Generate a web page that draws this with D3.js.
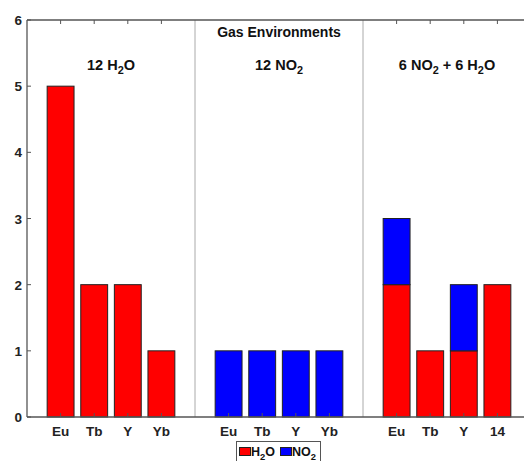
<!DOCTYPE html>
<html><head><meta charset="utf-8">
<script src="https://cdn.jsdelivr.net/npm/d3@7"></script>
<style>body{margin:0;background:#fff;} text{font-family:"Liberation Sans",Arial,sans-serif;font-weight:bold;}</style>
</head><body>
<svg id="c" width="524" height="461"></svg>
<script>
const categories = ["Eu","Tb","Y","Yb","Eu","Tb","Y","Yb","Eu","Tb","Y","14"];
const positions = [1,2,3,4,6,7,8,9,11,12,13,14];
const h2oValues = [5,2,2,1,0,0,0,0,2,1,1,2];
const no2Values = [0,0,0,0,1,1,1,1,1,0,1,0];
const yTicks = [0,1,2,3,4,5,6];
const separators = [5,10];
const groupLabels = [
  {x:2.5, parts:[["12 H",0],["2",1],["O",0]]},
  {x:7.5, parts:[["12 NO",0],["2",1]]},
  {x:12.5, parts:[["6 NO",0],["2",1],[" + 6 H",0],["2",1],["O",0]]}
];
const colors = {h2o:"#ff0000", no2:"#0000ff"};

const svg = d3.select("#c");
const x = d3.scaleLinear().domain([0,15]).range([27,531]);
const y = d3.scaleLinear().domain([0,6]).range([417,20]);
const bw = (x(1)-x(0))*0.8;
const axisCol = "#555";

svg.selectAll(".sep").data(separators).enter().append("line")
  .attr("x1",d=>x(d)).attr("x2",d=>x(d)).attr("y1",y(6)).attr("y2",y(0))
  .attr("stroke","#aaa").attr("stroke-width",1);

const data = positions.map((p,i)=>({p, h:h2oValues[i], n:no2Values[i]}));
svg.selectAll(".h").data(data.filter(d=>d.h>0)).enter().append("rect")
  .attr("x",d=>x(d.p)-bw/2).attr("width",bw)
  .attr("y",d=>y(d.h)).attr("height",d=>y(0)-y(d.h))
  .attr("fill",colors.h2o).attr("stroke","#222").attr("stroke-width",1);
svg.selectAll(".n").data(data.filter(d=>d.n>0)).enter().append("rect")
  .attr("x",d=>x(d.p)-bw/2).attr("width",bw)
  .attr("y",d=>y(d.h+d.n)).attr("height",d=>y(d.h)-y(d.h+d.n))
  .attr("fill",colors.no2).attr("stroke","#222").attr("stroke-width",1);

svg.append("line").attr("x1",x(0)).attr("x2",x(15)).attr("y1",y(0)).attr("y2",y(0)).attr("stroke",axisCol).attr("stroke-width",1.3);
svg.append("line").attr("x1",x(0)).attr("x2",x(15)).attr("y1",y(6)).attr("y2",y(6)).attr("stroke",axisCol).attr("stroke-width",1.3);
svg.append("line").attr("x1",x(0)).attr("x2",x(0)).attr("y1",y(0)).attr("y2",y(6)).attr("stroke",axisCol).attr("stroke-width",1.3);

svg.selectAll(".tb").data(positions).enter().append("line")
  .attr("x1",d=>x(d)).attr("x2",d=>x(d)).attr("y1",y(0)).attr("y2",y(0)-4)
  .attr("stroke",axisCol).attr("stroke-width",1);
svg.selectAll(".tt").data(positions.filter(p=>p<5||p>10)).enter().append("line")
  .attr("x1",d=>x(d)).attr("x2",d=>x(d)).attr("y1",y(6)).attr("y2",y(6)+4)
  .attr("stroke",axisCol).attr("stroke-width",1);
svg.selectAll(".yt").data(yTicks).enter().append("line")
  .attr("x1",x(0)).attr("x2",x(0)+4).attr("y1",d=>y(d)).attr("y2",d=>y(d))
  .attr("stroke",axisCol).attr("stroke-width",1);

svg.selectAll(".xl").data(positions).enter().append("text")
  .attr("x",d=>x(d)).attr("y",y(0)+19).attr("text-anchor","middle")
  .attr("font-size",13.5).attr("fill","#222").text((d,i)=>categories[i]);
svg.selectAll(".yl").data(yTicks).enter().append("text")
  .attr("x",x(0)-5).attr("y",d=>y(d)+5).attr("text-anchor","end")
  .attr("font-size",13.5).attr("fill","#222").text(d=>d);

svg.append("rect").attr("x",x(7.5)-66).attr("y",y(6)+1).attr("width",132).attr("height",18).attr("fill","#fff");
svg.append("text").attr("x",x(7.5)).attr("y",37).attr("text-anchor","middle")
  .attr("font-size",14).attr("fill","#111").text("Gas Environments");

function richText(g, parts, size){
  const t = g.append("text").attr("font-size",size).attr("fill","#111");
  parts.forEach(([s,sub],i)=>{
    const ts = t.append("tspan").text(s);
    if(sub){ ts.attr("font-size",size*0.75).attr("dy",4); }
    else if(i>0 && parts[i-1][1]){ ts.attr("dy",-4); }
  });
  return t;
}
groupLabels.forEach(gl=>{
  const t = richText(svg, gl.parts, 14.5);
  t.attr("x",x(gl.x)).attr("y",70).attr("text-anchor","middle");
});

const lg = svg.append("g");
lg.append("rect").attr("x",236.5).attr("y",441.5).attr("width",84).attr("height",30)
  .attr("fill","#fff").attr("stroke","#555").attr("stroke-width",1);
lg.append("rect").attr("x",239.5).attr("y",447.5).attr("width",11).attr("height",8)
  .attr("fill",colors.h2o).attr("stroke","#222");
richText(lg,[["H",0],["2",1],["O",0]],12.5).attr("x",251).attr("y",456);
lg.append("rect").attr("x",280.5).attr("y",447.5).attr("width",11).attr("height",8)
  .attr("fill",colors.no2).attr("stroke","#222");
richText(lg,[["NO",0],["2",1]],12.5).attr("x",292).attr("y",456);
</script>
</body></html>
